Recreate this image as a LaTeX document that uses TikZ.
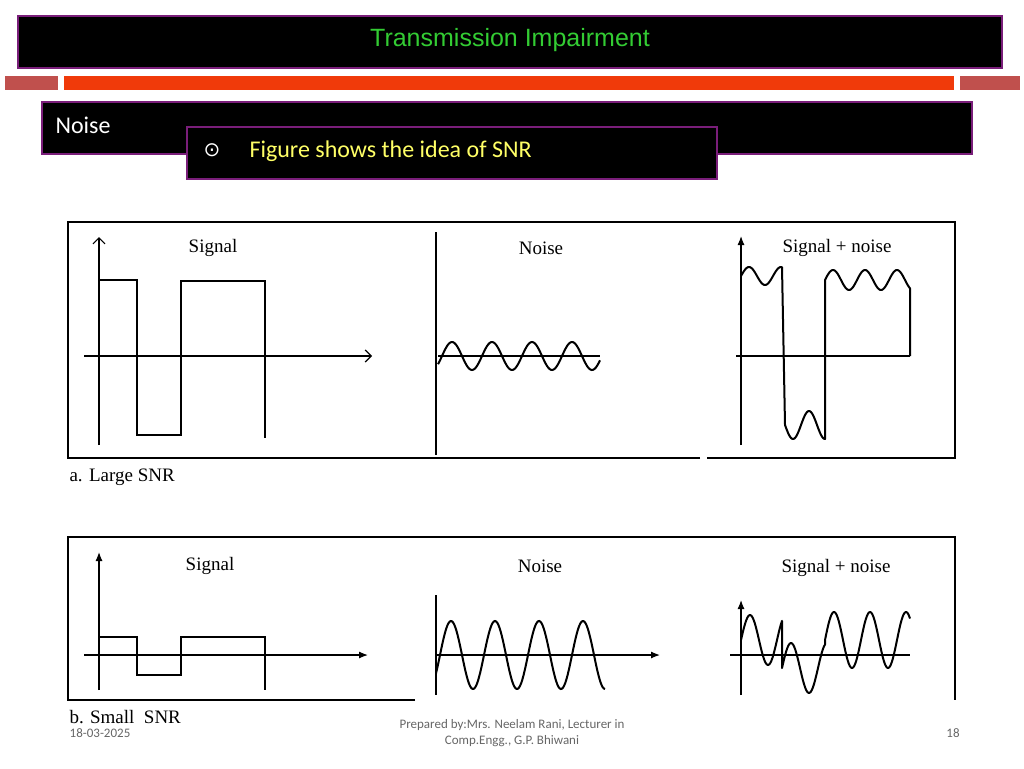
\documentclass[tikz,border=0pt]{standalone}
\usepackage{fontspec}
\setmainfont{Liberation Serif}
\newfontfamily\arial{Liberation Sans}
\newfontfamily\carlitofont{Carlito}
\newfontfamily\djv{DejaVu Sans}
\usetikzlibrary{arrows.meta}
\definecolor{purp}{HTML}{7A1E7A}
\definecolor{ttlgreen}{HTML}{33CC33}
\definecolor{orng}{HTML}{F03A0A}
\definecolor{redsm}{HTML}{C0504D}
\definecolor{yel}{HTML}{FFFF66}
\begin{document}
\begin{tikzpicture}[x=1pt,y=-1pt,
  bar/.style={fill=black,draw=purp,line width=2pt},
  frame/.style={line width=1.3pt},
  ax/.style={line width=1.2pt},
  sig/.style={line width=2.6pt,line join=miter},
  lab/.style={font=\fontsize{19}{20}\selectfont},
  foot/.style={font=\carlitofont\fontsize{13}{16}\selectfont,text=gray!80!black,align=center}]
\useasboundingbox (0,0) rectangle (1024,768);
% header
\draw[bar] (18,16) rectangle (1002,68);
\node[text=ttlgreen,font=\arial\fontsize{25}{28}\selectfont] (title) at (510,40) {Transmission Impairment};
\fill[redsm] (5,76) rectangle (58,90);
\fill[orng] (64,76) rectangle (954,90);
\fill[redsm] (960,76) rectangle (1020,90);
\draw[bar] (42,102) rectangle (972,154);
\node[anchor=west,text=white,font=\carlitofont\fontsize{24}{28}\selectfont] (noise) at (52,125) {Noise};
\draw[bar] (187,127) rectangle (717,179);
\node[text=white,font=\djv\fontsize{20}{24}\selectfont] (dot) at (212,150) {⊙};
\node[anchor=west,text=yel,font=\carlitofont\fontsize{24}{28}\selectfont] (fig) at (246,151) {Figure shows the idea of SNR};
% panel a frame
\draw[frame] (700,458) -- (68,458) -- (68,222) -- (955,222) -- (955,458) -- (707,458);
\node[lab] (sa) at (213,248) {Signal};
\node[lab] (na) at (541,248) {Noise};
\node[lab] (sna) at (837,248) {Signal + noise};
\draw[ax,-{Straight Barb[length=6pt,width=12pt]}] (99,445) -- (99,237);
\draw[ax,-{Straight Barb[length=6pt,width=12pt]}] (84,356) -- (372,356);
\draw[sig] (99,280) -- (137,280) -- (137,435) -- (181,435) -- (181,281) -- (265,281) -- (265,438);
\draw[ax] (436,232) -- (436,455);
\draw[ax] (438,356) -- (600,356);
\draw[line width=2pt] plot[domain=438:600,samples=120] (\x,{356-14*sin((\x-442)*9)});
\draw[ax,-{Latex[length=9pt,width=7pt]}] (741,445) -- (741,236);
\draw[ax] (736,356) -- (910,356);
\draw[line width=2pt,line join=round] plot[domain=741:782,samples=40] (\x,{276-9*sin((\x-741)*11.25)})
  -- plot[domain=785:825,samples=40] (\x,{425+14*sin((\x-785)*11.25)})
  -- plot[domain=825:910,samples=80] (\x,{280-10*sin((\x-825)*11.25)}) -- (910,356);
\node[lab,anchor=west] (la) at (66,477) {a. Large SNR};
% panel b
\draw[frame] (415,700) -- (68,700) -- (68,537) -- (955,537) -- (955,700);
\node[lab] (sb) at (210,566) {Signal};
\node[lab] (nb) at (540,566) {Noise};
\node[lab] (snb) at (836,568) {Signal + noise};
\draw[ax,-{Latex[length=9pt,width=7pt]}] (99,690) -- (99,552);
\draw[ax,-{Latex[length=9pt,width=7pt]}] (84,655) -- (368,655);
\draw[sig,line width=2pt] (99,637) -- (137,637) -- (137,675) -- (181,675) -- (181,637) -- (265,637) -- (265,690);
\draw[ax] (436,595) -- (436,695);
\draw[ax,-{Latex[length=9pt,width=7pt]}] (436,655) -- (660,655);
\draw[line width=2pt] plot[domain=436:605,samples=150] (\x,{655-34*sin((\x-440)*8.1818)});
\draw[ax,-{Latex[length=9pt,width=7pt]}] (741,695) -- (741,600);
\draw[ax] (730,655) -- (910,655);
\draw[line width=2pt,line join=round] plot[domain=741:782,samples=40] (\x,{640-25*sin((\x-741)*10)})
  -- plot[domain=782:825,samples=40] (\x,{668-25*sin((\x-782)*10)})
  -- plot[domain=825:910,samples=80] (\x,{640-28*sin((\x-825)*10)});
\node[lab,anchor=west] (lb) at (66,717) {b. Small\ \ SNR};
% footer
\node[foot] (date) at (100,733) {18-03-2025};
\node[foot] (prep) at (512,733) {Prepared by:Mrs. Neelam Rani, Lecturer in\\Comp.Engg., G.P. Bhiwani};
\node[foot] (pg) at (953,733) {18};
\end{tikzpicture}
\end{document}
